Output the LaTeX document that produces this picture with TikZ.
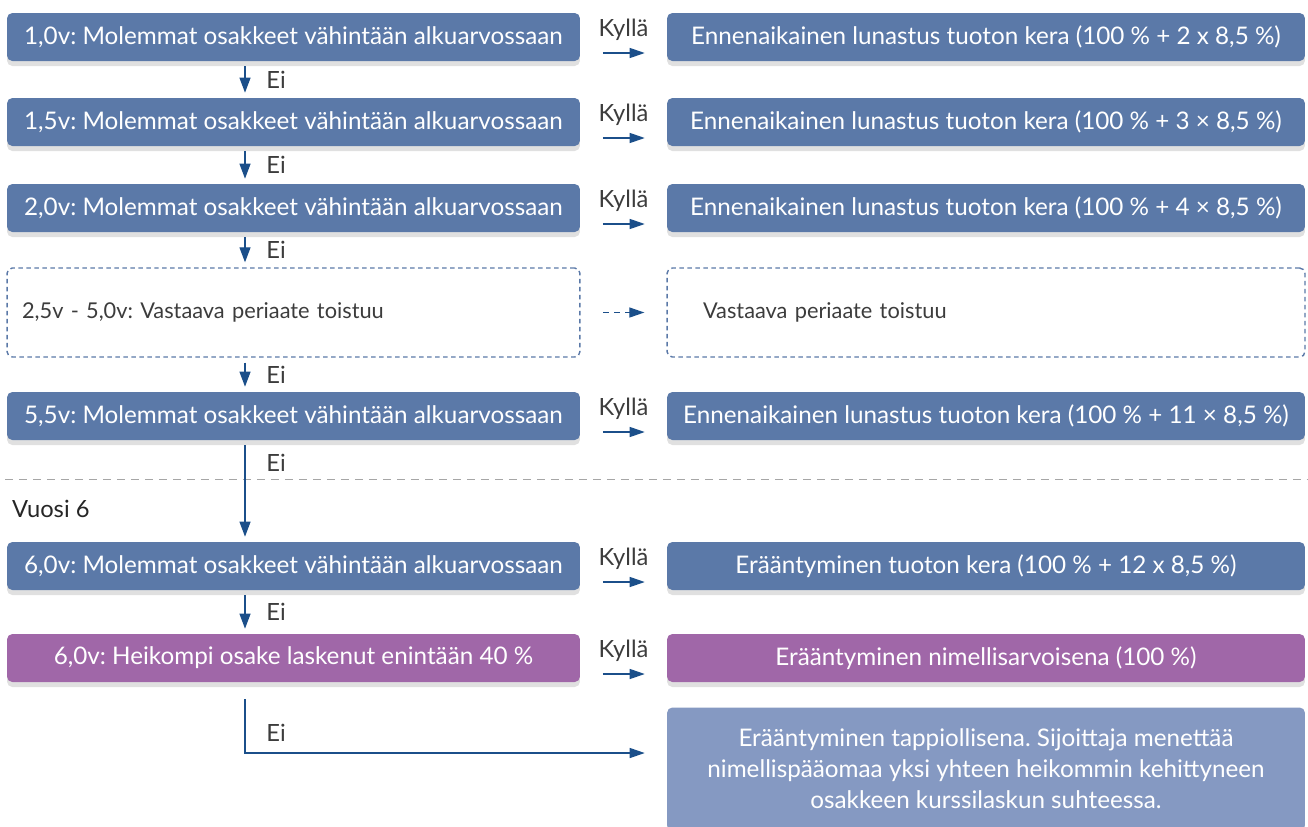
\documentclass[tikz,border=0pt]{standalone}
\usepackage{fontspec}
\setmainfont{Lato}
\frenchspacing
\usetikzlibrary{arrows.meta,shadows}
\definecolor{boxblue}{HTML}{5B79A8}
\definecolor{boxpurple}{HTML}{A067A8}
\definecolor{boxlight}{HTML}{8599C2}
\definecolor{arrowblue}{HTML}{1B4F8A}
\definecolor{textgray}{HTML}{3C3C3C}
\newcommand{\kylla}[2]{\draw[yesarrow] ([yshift=-0.32cm]#1.east) -- ([yshift=-0.32cm]#2.west) node[midway,above=0.12cm,text=textgray] {Kyllä};}
\newcommand{\ei}[2]{\draw[noarrow] ([xshift=-0.97cm]#1.south) -- ([xshift=-0.97cm]#2.north) node[midway,right=0.3cm,text=textgray] {Ei};}
\tikzset{
  basebox/.style={rounded corners=3pt, text=white, minimum height=0.96cm,
    font=\fontsize{13.8}{17.6}\selectfont,
    drop shadow={shadow xshift=0pt, shadow yshift=-0.1cm, opacity=0.12, fill=black}},
  leftbox/.style={basebox, fill=boxblue, minimum width=11.46cm},
  rightbox/.style={basebox, fill=boxblue, minimum width=12.76cm},
  dashbox/.style={draw=boxblue, line width=0.8pt, dash pattern=on 0.09cm off 0.07cm, rounded corners=3pt,
    minimum height=1.78cm, text=textgray, align=left, font=\fontsize{12.4}{15}\selectfont},
  yesarrow/.style={draw=arrowblue, line width=0.7pt, -{Triangle[length=0.3cm,width=0.2cm]},
    shorten <=0.45cm, shorten >=0.44cm},
  noarrow/.style={draw=arrowblue, line width=0.7pt, -{Triangle[length=0.3cm,width=0.22cm]},
    shorten <=0.1cm, shorten >=0.1cm},
  every node/.append style={font=\fontsize{13.5}{16}\selectfont}
}
\begin{document}
\begin{tikzpicture}[x=0.02cm,y=-0.02cm]
  \useasboundingbox (0,0) rectangle (1308,826);

  % kysymykset vasemmalla
  \node[leftbox] (l1) at (293.5,37) {1,0v: Molemmat osakkeet vähintään alkuarvossaan};
  \node[leftbox] (l2) at (293.5,122) {1,5v: Molemmat osakkeet vähintään alkuarvossaan};
  \node[leftbox] (l3) at (293.5,208) {2,0v: Molemmat osakkeet vähintään alkuarvossaan};
  \node[dashbox, minimum width=11.46cm, text width=10.86cm, inner xsep=0.3cm] (d4) at (293.5,312.5) {2,5v - 5,0v: Vastaava periaate toistuu};
  \node[leftbox] (l5) at (293.5,416) {5,5v: Molemmat osakkeet vähintään alkuarvossaan};
  \node[leftbox] (l6) at (293.5,566) {6,0v: Molemmat osakkeet vähintään alkuarvossaan};
  \node[leftbox, fill=boxpurple] (l7) at (293.5,658) {6,0v: Heikompi osake laskenut enintään 40 \%};

  % seuraukset oikealla
  \node[rightbox] (r1) at (986,37) {Ennenaikainen lunastus tuoton kera (100 \% + 2 x 8,5 \%)};
  \node[rightbox] (r2) at (986,122) {Ennenaikainen lunastus tuoton kera (100 \% + 3 × 8,5 \%)};
  \node[rightbox] (r3) at (986,208) {Ennenaikainen lunastus tuoton kera (100 \% + 4 × 8,5 \%)};
  \node[dashbox, minimum width=12.76cm, text width=11.32cm, inner xsep=0.72cm] (e4) at (986,312.5) {Vastaava periaate toistuu};
  \node[rightbox] (r5) at (986,416) {Ennenaikainen lunastus tuoton kera (100 \% + 11 × 8,5 \%)};
  \node[rightbox] (r6) at (986,566) {Erääntyminen tuoton kera (100 \% + 12 x 8,5 \%)};
  \node[rightbox, fill=boxpurple] (r7) at (986,658) {Erääntyminen nimellisarvoisena (100 \%)};
  \node[basebox, fill=boxlight, minimum width=12.76cm, minimum height=2.46cm, align=center,
    drop shadow={opacity=0}] (loss) at (986,769)
    {Erääntyminen tappiollisena. Sijoittaja menettää\\nimellispääomaa yksi yhteen heikommin kehittyneen\\osakkeen kurssilaskun suhteessa.};

  % vuosi 6 raja
  \draw[gray!70, dash pattern=on 0.16cm off 0.12cm] (5,479) -- (1308,479);
  \node[anchor=west, text=black!85] (v6) at (6,509) {Vuosi 6};

  \kylla{l1}{r1}
  \kylla{l2}{r2}
  \kylla{l3}{r3}
  \kylla{l5}{r5}
  \kylla{l6}{r6}
  \kylla{l7}{r7}
  \draw[draw=arrowblue, line width=0.7pt, dash pattern=on 0.12cm off 0.1cm, -{Triangle[length=0.3cm,width=0.2cm]},
    shorten <=0.45cm, shorten >=0.44cm] (d4.east) -- (e4.west);

  \ei{l1}{l2}
  \ei{l2}{l3}
  \ei{l3}{d4}
  \ei{d4}{l5}
  \ei{l6}{l7}
  \draw[noarrow] ([xshift=-0.97cm]l5.south) -- ([xshift=-0.97cm]l6.north) node[pos=0.22,right=0.3cm,text=textgray] {Ei};
  \draw[draw=arrowblue, line width=0.7pt, -{Triangle[length=0.3cm,width=0.2cm]}, shorten >=0.44cm]
    ([xshift=-0.97cm,yshift=-0.34cm]l7.south) |- ([yshift=0.32cm]loss.west) node[pos=0.31,right=0.3cm,text=textgray] {Ei};
\end{tikzpicture}
\end{document}
